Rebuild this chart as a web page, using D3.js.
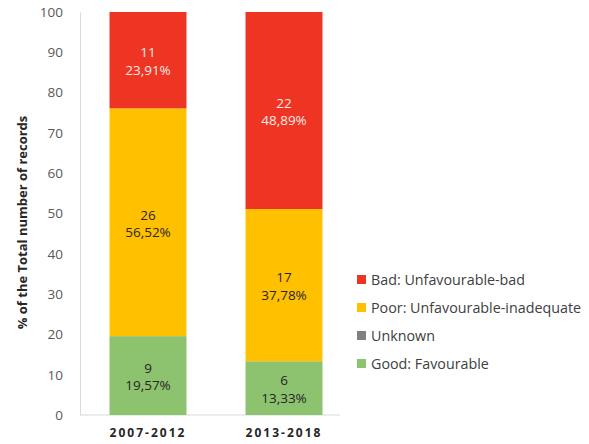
<!DOCTYPE html>
<html>
<head>
<meta charset="utf-8">
<script src="https://cdn.jsdelivr.net/npm/d3@7"></script>
<style>
  body { margin: 0; background: #fff; }
  text { font-family: "Open Sans", "DejaVu Sans", sans-serif; }
</style>
</head>
<body>
<div id="chart"></div>
<script>
// periods on the x axis
var periods = ["2007-2012", "2013-2018"];
// legend order (top to bottom)
var statuses = ["Bad: Unfavourable-bad", "Poor: Unfavourable-inadequate", "Unknown", "Good: Favourable"];
var colors = ["#EE3524", "#FFC000", "#808080", "#8DC26F"];
// counts and percentages per period, stacked bottom-up: good, unknown, poor, bad
var goodCount = [9, 6],   goodPct = [19.57, 13.33];
var unknownCount = [0, 0], unknownPct = [0, 0];
var poorCount = [26, 17], poorPct = [56.52, 37.78];
var badCount = [11, 22],  badPct = [23.91, 48.89];
var yTicks = [0, 10, 20, 30, 40, 50, 60, 70, 80, 90, 100];

var width = 589, height = 444;
var margin = {top: 12, left: 80, bottom: 30};

var svg = d3.select("#chart").append("svg")
    .attr("width", width)
    .attr("height", height);

var x = d3.scaleBand()
    .domain(periods)
    .range([80, 352])
    .paddingInner(0.434)
    .paddingOuter(0.217);

var y = d3.scaleLinear()
    .domain([0, 100])
    .range([height - margin.bottom + 1, margin.top]);

// build stacked rows from the arrays above
var rows = periods.map(function(p, i) {
    return {period: p, good: goodPct[i], unknown: unknownPct[i], poor: poorPct[i], bad: badPct[i],
            counts: {good: goodCount[i], unknown: unknownCount[i], poor: poorCount[i], bad: badCount[i]}};
});
var keys = ["good", "unknown", "poor", "bad"];
var keyColor = {bad: colors[0], poor: colors[1], unknown: colors[2], good: colors[3]};
var stack = d3.stack().keys(keys)(rows);

// axes
var yAxis = svg.append("g")
    .attr("transform", "translate(" + margin.left + ",0)")
    .call(d3.axisLeft(y).tickValues(yTicks).tickSize(0).tickPadding(17));
yAxis.select(".domain").attr("stroke", "#d9d9d9");
yAxis.selectAll("text").attr("fill", "#595959").style("font-size", "13.5px");

svg.append("line")
    .attr("x1", margin.left).attr("x2", 340)
    .attr("y1", y(0)).attr("y2", y(0))
    .attr("stroke", "#d9d9d9");

svg.append("g").selectAll("text")
    .data(periods)
    .enter().append("text")
    .attr("x", function(d) { return x(d) + x.bandwidth() / 2; })
    .attr("y", y(0) + 22)
    .attr("text-anchor", "middle")
    .attr("fill", "#262626")
    .style("font-size", "12px")
    .style("font-weight", "bold")
    .style("letter-spacing", "2px")
    .text(function(d) { return d; });

// y axis title
svg.append("text")
    .attr("transform", "translate(27," + (y(50) + 9) + ") rotate(-90)")
    .attr("text-anchor", "middle")
    .attr("fill", "#262626")
    .style("font-size", "13px")
    .style("font-weight", "bold")
    .text("% of the Total number of records");

// bars
var layer = svg.append("g").selectAll("g")
    .data(stack)
    .enter().append("g")
    .attr("fill", function(d) { return keyColor[d.key]; });

layer.selectAll("rect")
    .data(function(d) { return d; })
    .enter().append("rect")
    .attr("x", function(d) { return x(d.data.period); })
    .attr("y", function(d) { return y(d[1]); })
    .attr("height", function(d) { return y(d[0]) - y(d[1]); })
    .attr("width", x.bandwidth());

// labels inside bars
layer.each(function(s) {
    var key = s.key;
    d3.select(this).selectAll("text.val")
        .data(s.filter(function(d) { return d[1] - d[0] > 0; }))
        .enter().append("text")
        .attr("class", "val")
        .attr("text-anchor", "middle")
        .attr("fill", key == "bad" ? "#fde9e6" : "#262626")
        .style("font-size", "13.5px")
        .attr("transform", function(d) {
            return "translate(" + (x(d.data.period) + x.bandwidth() / 2) + "," + y((d[0] + d[1]) / 2) + ")";
        })
        .each(function(d) {
            var t = d3.select(this);
            t.append("tspan").attr("x", 0).attr("dy", "-0.2em").text(d.data.counts[key]);
            t.append("tspan").attr("x", 0).attr("dy", "1.3em")
                .text(d3.format(".2f")(d.data[key]).replace(".", ",") + "%");
        });
});

// legend
var legend = svg.append("g").selectAll("g")
    .data(statuses)
    .enter().append("g")
    .attr("transform", function(d, i) { return "translate(357," + (280 + i * 28) + ")"; });

legend.append("rect")
    .attr("x", 0).attr("y", -5)
    .attr("width", 9).attr("height", 9)
    .attr("fill", function(d, i) { return colors[i]; });

legend.append("text")
    .attr("x", 14).attr("y", 5)
    .attr("fill", "#404040")
    .style("font-size", "14.3px")
    .text(function(d) { return d; });
</script>
</body>
</html>
